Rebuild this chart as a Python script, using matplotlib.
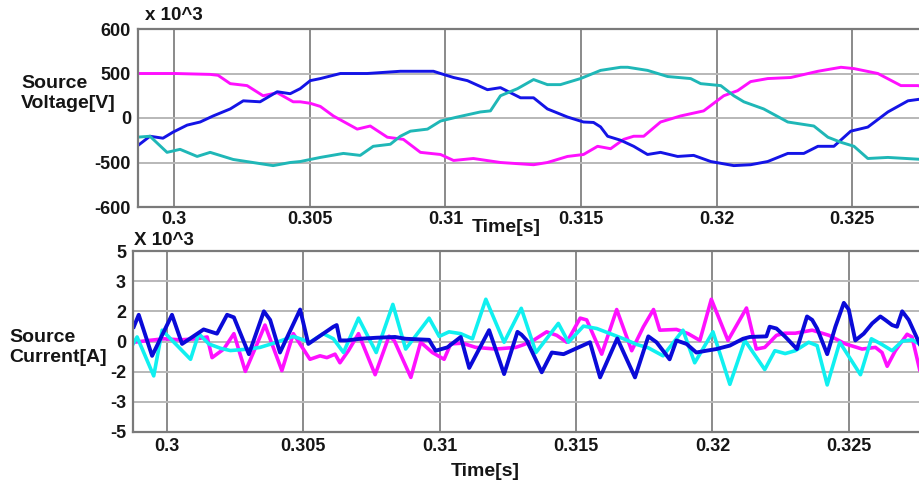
import numpy as np
import matplotlib
matplotlib.use("Agg")
import matplotlib.pyplot as plt

plt.rcParams["font.family"] = ["Liberation Sans", "DejaVu Sans"]
plt.rcParams["font.weight"] = "bold"

# ---------------- source voltage (three phases) ----------------
t_va = [0.29867, 0.30004, 0.30133, 0.30162, 0.30207, 0.30269, 0.30328, 0.30380,
        0.30439, 0.30465, 0.30502, 0.30539, 0.30587, 0.30675, 0.30723, 0.30786,
        0.30845, 0.30908, 0.30982, 0.31030, 0.31103, 0.31203, 0.31325, 0.31376,
        0.31450, 0.31509, 0.31561, 0.31609, 0.31657, 0.31694, 0.31731, 0.31793,
        0.31867, 0.31952, 0.32026, 0.32077, 0.32125, 0.32188, 0.32273, 0.32373,
        0.32458, 0.32506, 0.32594, 0.32679, 0.32742, 0.32760]
v_va = [500, 500, 490, 480, 386, 364, 250, 284,
        182, 182, 165, 130, 23, -125, -90, -216,
        -240, -386, -410, -477, -455, -500, -505, -500,
        -432, -410, -318, -345, -240, -205, -205, -45,
        23, 80, 250, 307, 409, 443, 455, 505,
        514, 511, 500, 364, 364, 350]

t_vb = [0.29863, 0.29911, 0.29959, 0.29996, 0.30048, 0.30096, 0.30144, 0.30207,
        0.30255, 0.30317, 0.30380, 0.30428, 0.30465, 0.30502, 0.30539, 0.30613,
        0.30712, 0.30834, 0.30956, 0.30982, 0.31030, 0.31081, 0.31155, 0.31203,
        0.31277, 0.31325, 0.31376, 0.31450, 0.31509, 0.31546, 0.31572, 0.31598,
        0.31646, 0.31694, 0.31745, 0.31793, 0.31856, 0.31915, 0.31978, 0.32063,
        0.32125, 0.32188, 0.32262, 0.32321, 0.32373, 0.32432, 0.32494, 0.32557,
        0.32631, 0.32705, 0.32760]
v_vb = [-318, -205, -227, -159, -80, -45, 23, 102,
        193, 182, 295, 273, 330, 420, 443, 500,
        500, 505, 505, 500, 455, 420, 318, 341,
        227, 227, 102, 11, -45, -50, -100, -205,
        -250, -318, -410, -386, -432, -420, -489, -507,
        -505, -489, -398, -398, -318, -318, -148, -102,
        68, 193, 216]

t_vc = [0.29863, 0.29911, 0.29974, 0.30022, 0.30085, 0.30133, 0.30218, 0.30365,
        0.30428, 0.30465, 0.30539, 0.30624, 0.30686, 0.30734, 0.30797, 0.30834,
        0.30871, 0.30934, 0.30982, 0.31044, 0.31129, 0.31166, 0.31203, 0.31266,
        0.31325, 0.31376, 0.31424, 0.31498, 0.31572, 0.31646, 0.31672, 0.31745,
        0.31819, 0.31904, 0.31941, 0.32015, 0.32063, 0.32100, 0.32173, 0.32262,
        0.32358, 0.32410, 0.32458, 0.32506, 0.32557, 0.32631, 0.32760]
v_vc = [-216, -205, -386, -352, -432, -386, -466, -507,
        -500, -489, -443, -398, -420, -318, -295, -205,
        -148, -125, -34, 11, 68, 80, 250, 330,
        432, 375, 375, 443, 507, 514, 514, 507,
        466, 443, 386, 364, 250, 182, 102, -45,
        -90, -216, -273, -318, -455, -443, -466]

# ---------------- source current (three phases, x 10^3) ----------------
t_ia = [0.29878, 0.29933, 0.29988, 0.30049, 0.30110, 0.30147, 0.30165, 0.30208,
        0.30245, 0.30287, 0.30330, 0.30359, 0.30421, 0.30463, 0.30524, 0.30561,
        0.30586, 0.30616, 0.30634, 0.30665, 0.30702, 0.30763, 0.30814, 0.30833,
        0.30894, 0.30930, 0.30973, 0.31016, 0.31040, 0.31083, 0.31132, 0.31205,
        0.31279, 0.31309, 0.31343, 0.31392, 0.31429, 0.31466, 0.31515, 0.31539,
        0.31594, 0.31649, 0.31704, 0.31747, 0.31784, 0.31807, 0.31868, 0.31911,
        0.31954, 0.31996, 0.32057, 0.32125, 0.32161, 0.32192, 0.32235, 0.32265,
        0.32304, 0.32366, 0.32427, 0.32488, 0.32549, 0.32598, 0.32622, 0.32641,
        0.32671, 0.32714, 0.32732, 0.32760]
i_ia = [-0.05, 0.07, 0.18, 0.11, 0.18, 0.3, -1.07, -0.5,
        0.52, -1.98, -0.16, 1.09, -1.93, 0.52, -1.18, -0.95,
        -1.07, -0.84, -1.41, -0.61, 0.52, -2.1, 0.35, 0.07,
        -2.19, -0.05, -0.73, -1.18, -0.16, -0.11, -0.39, -0.5,
        -0.39, -0.2, 0.07, 0.64, 0.41, -0.05, 1.55, 1.43,
        -0.84, 2.06, -0.61, 0.98, 2.06, 0.75, 0.8, 0.52,
        0.07, 2.4, 0.07, 2.11, -0.5, -0.39, 0.41, 0.55,
        0.55, 0.75, 0.41, -0.16, -0.5, -0.39, -0.73, -1.64,
        -0.61, 0.48, 0.3, -1.86]

t_ib = [0.29878, 0.29896, 0.29945, 0.30018, 0.30055, 0.30134, 0.30183, 0.30220,
        0.30245, 0.30300, 0.30355, 0.30378, 0.30414, 0.30488, 0.30518, 0.30555,
        0.30610, 0.30622, 0.30634, 0.30659, 0.30708, 0.30769, 0.30836, 0.30875,
        0.30961, 0.30973, 0.30985, 0.31028, 0.31077, 0.31108, 0.31181, 0.31236,
        0.31285, 0.31300, 0.31319, 0.31374, 0.31411, 0.31454, 0.31509, 0.31551,
        0.31588, 0.31651, 0.31716, 0.31765, 0.31795, 0.31843, 0.31868, 0.31905,
        0.31941, 0.31978, 0.32015, 0.32064, 0.32112, 0.32137, 0.32198, 0.32210,
        0.32235, 0.32268, 0.32310, 0.32347, 0.32366, 0.32384, 0.32421, 0.32451,
        0.32482, 0.32500, 0.32524, 0.32555, 0.32586, 0.32616, 0.32634, 0.32659,
        0.32677, 0.32696, 0.32720, 0.32760]
i_ib = [0.98, 1.77, -0.95, 1.77, -0.16, 0.8, 0.52, 1.77,
        1.6, -0.84, 2.0, 1.43, -0.73, 2.06, -0.16, 0.3,
        0.98, 1.09, 0.07, 0.07, 0.18, 0.25, 0.3, 0.18,
        0.11, -0.27, -0.61, -0.39, 0.3, -1.75, 0.75, -2.08,
        0.64, 0.45, 0.07, -2.02, -0.73, -0.84, -0.39, -0.05,
        -2.19, 0.2, -2.19, 0.34, -0.05, -1.18, 0.07, -0.16,
        -0.73, -0.61, -0.5, -0.27, 0.18, 0.3, 0.34, 0.98,
        0.86, 0.3, -0.5, 1.66, 1.43, 0.86, -0.84, 0.98,
        2.28, 2.06, 0.07, 0.52, 1.2, 1.66, 1.43, 1.09,
        0.98, 2.0, 1.43, -0.16]

t_ic = [0.29872, 0.29890, 0.29951, 0.29982, 0.30086, 0.30116, 0.30153, 0.30196,
        0.30232, 0.30300, 0.30341, 0.30402, 0.30463, 0.30524, 0.30573, 0.30610,
        0.30647, 0.30702, 0.30767, 0.30828, 0.30875, 0.30961, 0.30998, 0.31034,
        0.31077, 0.31120, 0.31169, 0.31236, 0.31299, 0.31353, 0.31435, 0.31472,
        0.31527, 0.31576, 0.31625, 0.31674, 0.31723, 0.31765, 0.31819, 0.31892,
        0.31935, 0.32002, 0.32064, 0.32119, 0.32192, 0.32229, 0.32267, 0.32304,
        0.32353, 0.32384, 0.32421, 0.32467, 0.32543, 0.32583, 0.32622, 0.32659,
        0.32696, 0.32732, 0.32763]
i_ic = [-0.27, 0.3, -2.14, 0.75, -1.18, 0.52, -0.16, -0.45,
        -0.6, -0.5, -0.39, -0.05, 0.34, -0.05, 0.52, 0.18,
        -0.73, 1.55, -0.73, 2.23, -0.5, 1.55, 0.34, 0.64,
        0.52, 0.18, 2.4, -0.05, 2.1, -0.73, 1.2, -0.05,
        1.02, 0.86, 0.52, 0.18, -0.2, -0.42, -0.95, 0.75,
        -1.41, 0.64, -2.42, 0.07, -1.86, -0.61, -0.8, -0.61,
        -0.05, -0.27, -2.44, -0.05, -2.1, 0.18, -0.2, -0.61,
        0.02, 0.11, -0.2]

x_ticks = [0.3, 0.305, 0.31, 0.315, 0.32, 0.325]
x_ticklabels = ["0.3", "0.305", "0.31", "0.315", "0.32", "0.325"]
v_ticks = [-600, -500, 0, 500, 600]
i_ticks = [-5, -3, -2, 0, 2, 3, 5]


def piecewise(xp, fp):
    xp = np.asarray(xp, float)
    fp = np.asarray(fp, float)
    lo = (fp[1] - fp[0]) / (xp[1] - xp[0])
    hi = (fp[-1] - fp[-2]) / (xp[-1] - xp[-2])

    def f(v):
        v = np.asarray(v, float)
        out = np.interp(v, xp, fp)
        out = np.where(v < xp[0], fp[0] + (v - xp[0]) * lo, out)
        out = np.where(v > xp[-1], fp[-1] + (v - xp[-1]) * hi, out)
        return out
    return f


W, H = 920, 487
fig = plt.figure(figsize=(W / 100, H / 100), dpi=100)


def px_axes(l, t, r, b):
    return fig.add_axes([l / W, 1 - b / H, (r - l) / W, (b - t) / H])


TXT = "#151515"
FRAME = "#7a7a7a"


def style(ax, yticks, pad_x):
    even = np.arange(len(yticks)) - (len(yticks) - 1) / 2
    ax.set_yscale("function", functions=(piecewise(yticks, even), piecewise(even, yticks)))
    ax.set_ylim(yticks[0], yticks[-1])
    ax.set_yticks(yticks)
    ax.set_yticklabels([str(v) for v in yticks])
    ax.set_xticks(x_ticks)
    ax.set_xticklabels(x_ticklabels)
    ax.tick_params(length=0, labelsize=13, labelcolor=TXT)
    ax.tick_params(axis="x", pad=pad_x)
    ax.tick_params(axis="y", pad=5)
    for lab in ax.get_xticklabels() + ax.get_yticklabels():
        lab.set_fontweight("bold")
    ax.grid(axis="y", color="#b8b8b8", lw=1.4)
    ax.grid(axis="x", color="#8a8a8a", lw=1.4)
    ax.set_axisbelow(True)
    for s in ["top", "left", "bottom"]:
        ax.spines[s].set_color(FRAME)
        ax.spines[s].set_linewidth(1.6)
    ax.spines["right"].set_visible(False)


# top panel: source voltage
ax1 = px_axes(138, 29, 921, 207)
ax1.plot(t_va, v_va, color="#ff10ff", lw=2.1, solid_joinstyle="round")
ax1.plot(t_vb, v_vb, color="#1414e6", lw=2.1, solid_joinstyle="round")
ax1.plot(t_vc, v_vc, color="#1fb7b7", lw=2.1, solid_joinstyle="round")
ax1.set_xlim(0.29867, 0.32753)
style(ax1, v_ticks, 3)

# bottom panel: source current
ax2 = px_axes(133, 251, 921, 432)
ax2.plot(t_ia, i_ia, color="#ff10ff", lw=2.6, solid_joinstyle="round")
ax2.plot(t_ic, i_ic, color="#10f0f0", lw=2.6, solid_joinstyle="round")
ax2.plot(t_ib, i_ib, color="#0a0ad8", lw=2.8, solid_joinstyle="round")
ax2.set_xlim(0.29875, 0.32765)
style(ax2, i_ticks, 4)


def ftext(x, y, s, **kw):
    fig.text(x / W, 1 - y / H, s, color=TXT, fontweight="bold", **kw)


ftext(145, 16, "x 10^3", fontsize=13.5, va="center", ha="left")
ftext(134, 241, "X 10^3", fontsize=13.5, va="center", ha="left")
ftext(21, 84, "Source", fontsize=14, va="center", ha="left")
ftext(21, 104, "Voltage[V]", fontsize=14, va="center", ha="left")
ftext(9, 338, "Source", fontsize=14, va="center", ha="left")
ftext(9, 357, "Current[A]", fontsize=14, va="center", ha="left")
ftext(506, 228, "Time[s]", fontsize=14, va="center", ha="center")
ftext(485, 472, "Time[s]", fontsize=14, va="center", ha="center")

fig.savefig("out.png", dpi=100)
